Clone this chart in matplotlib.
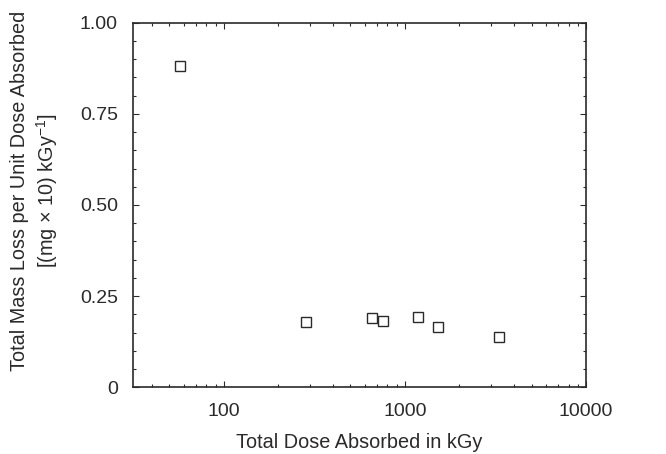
import numpy as np
import matplotlib.pyplot as plt
from matplotlib.ticker import FixedLocator, LogLocator, NullFormatter, FixedFormatter

plt.rcParams['font.family'] = ['Liberation Sans', 'DejaVu Sans']
plt.rcParams['mathtext.default'] = 'regular'

# data
dose = [57, 283, 655, 755, 1180, 1520, 3300]
mass_loss = [0.880, 0.178, 0.189, 0.183, 0.193, 0.164, 0.139]

y_ticks = [0, 0.25, 0.50, 0.75, 1.00]
y_labels = ['0', '0.25', '0.50', '0.75', '1.00']
x_ticks = [100, 1000, 10000]
x_labels = ['100', '1000', '10000']

col = '#2a2a2a'

fig = plt.figure(figsize=(6.66, 4.54), dpi=100)
ax = fig.add_axes([0.2, 0.147, 0.68, 0.803])

ax.plot(dose, mass_loss, linestyle='none', marker='s', markersize=7,
        markerfacecolor='white', markeredgecolor=col, markeredgewidth=1.0)

ax.set_xscale('log')
ax.set_xlim(31.6, 10000)
ax.set_ylim(0, 1.0)

ax.xaxis.set_major_locator(FixedLocator(x_ticks))
ax.xaxis.set_major_formatter(FixedFormatter(x_labels))
ax.xaxis.set_minor_locator(LogLocator(base=10, subs=np.arange(2, 10)))
ax.xaxis.set_minor_formatter(NullFormatter())

ax.yaxis.set_major_locator(FixedLocator(y_ticks))
ax.yaxis.set_major_formatter(FixedFormatter(y_labels))
ax.yaxis.set_minor_locator(FixedLocator(np.arange(0, 1.001, 0.05)))

ax.tick_params(which='both', direction='in', top=True, right=True, colors=col,
               labelsize=14, width=0.8)
ax.tick_params(axis='x', which='major', length=4, pad=11)
ax.tick_params(axis='y', which='major', length=4, pad=11)
ax.tick_params(which='minor', length=2.5)
for s in ax.spines.values():
    s.set_color(col)
    s.set_linewidth(1.2)

ax.set_xlabel('Total Dose Absorbed in kGy', fontsize=14.3, color=col, labelpad=10)
ax.set_ylabel('Total Mass Loss per Unit Dose Absorbed\n[(mg \u00d7 10) kGy$^{-1}$]',
              fontsize=14.3, color=col, linespacing=1.25)
ax.yaxis.set_label_coords(-0.162, 0.54)

fig.savefig('out.png', dpi=100)
